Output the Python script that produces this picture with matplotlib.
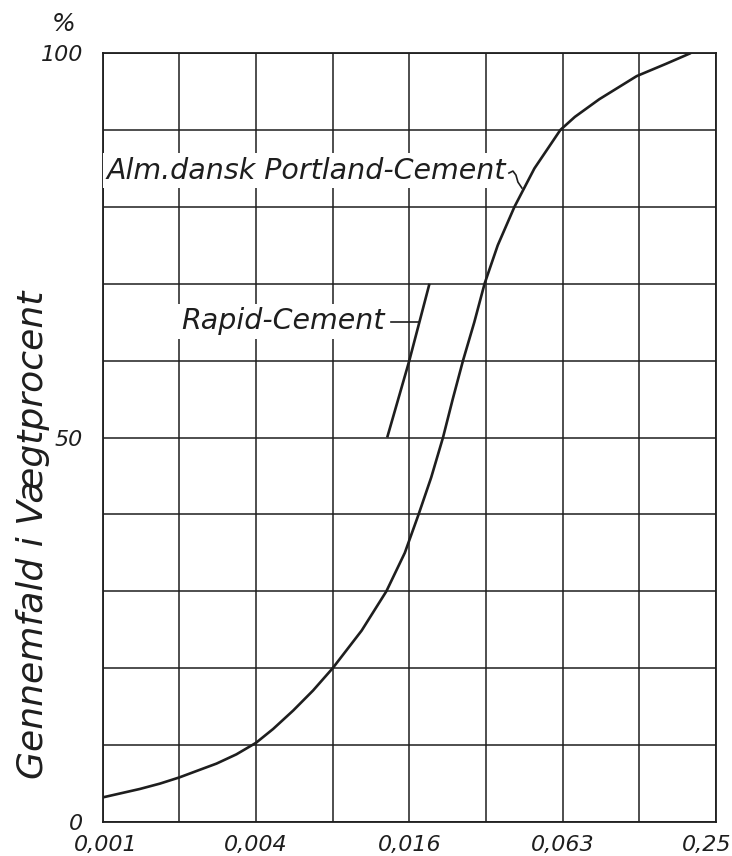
import matplotlib
matplotlib.use("Agg")
import matplotlib.pyplot as plt
import matplotlib.transforms as mtransforms

# Data
portland_x = [0.001, 0.0014, 0.00168, 0.002, 0.00241, 0.0028, 0.00335, 0.004,
              0.00467, 0.0056, 0.0067, 0.008, 0.0104, 0.0130, 0.01536, 0.0174,
              0.0195, 0.0217, 0.0237, 0.0260, 0.0288, 0.0316, 0.0356, 0.0414,
              0.0496, 0.0563, 0.0627, 0.0715, 0.0892, 0.125, 0.163, 0.204]
portland_y = [3.2, 4.3, 5.0, 5.8, 6.8, 7.6, 8.8, 10.3,
              12.1, 14.5, 17.1, 20.0, 24.9, 30.0, 35.0, 40.0,
              44.8, 50.0, 55.0, 60.0, 65.0, 70.0, 75.0, 80.0,
              85.0, 87.7, 90.0, 91.7, 94.0, 97.0, 98.6, 100.0]
rapid_x = [0.0131, 0.016, 0.0192]
rapid_y = [50.0, 60.0, 70.0]

grid_x = [0.001 * 2 ** k for k in range(9)]
xtick_pos = [0.001, 0.004, 0.016, 0.064, 0.256]
xtick_labels = ["0,001", "0,004", "0,016", "0,063", "0,25"]
ytick_pos = [0, 50, 100]
ytick_labels = ["0", "50", "100"]
ylabel = "Gennemfald i Vægtprocent"
label_portland = "Alm.dansk Portland-Cement"
label_rapid = "Rapid-Cement"

ink = "#1e1e1e"
FONT = dict(family="DejaVu Sans", style="italic")

fig = plt.figure(figsize=(7.32, 8.56), dpi=100)
ax = fig.add_axes([0.1403, 0.0397, 0.978 - 0.1403, 0.938 - 0.0397])
ax.set_xscale("log", base=2)
ax.set_xlim(grid_x[0], grid_x[-1])
ax.set_ylim(0, 100)

for gx in grid_x:
    ax.axvline(gx, color=ink, lw=1.1, zorder=1)
for gy in range(0, 101, 10):
    ax.axhline(gy, color=ink, lw=1.1, zorder=1)
for s in ax.spines.values():
    s.set_color(ink)
    s.set_linewidth(1.3)

ax.plot(portland_x, portland_y, color=ink, lw=1.9, zorder=3,
        solid_capstyle="butt", solid_joinstyle="round")
ax.plot(rapid_x, rapid_y, color=ink, lw=1.9, zorder=3, solid_capstyle="butt")

ax.set_xticks(xtick_pos)
ax.set_xticklabels(xtick_labels)
ax.minorticks_off()
ax.set_yticks(ytick_pos)
ax.set_yticklabels(ytick_labels)
ax.tick_params(axis="x", length=0, pad=9, labelsize=16, colors=ink)
ax.tick_params(axis="y", length=0, pad=14, labelsize=16, colors=ink)
for lab in ax.get_xticklabels() + ax.get_yticklabels():
    lab.set_fontstyle("italic")
last = ax.get_xticklabels()[-1]
last.set_transform(last.get_transform() +
                   mtransforms.ScaledTranslation(-9 / 100, 0, fig.dpi_scale_trans))
first = ax.get_xticklabels()[0]
first.set_transform(first.get_transform() +
                    mtransforms.ScaledTranslation(3 / 100, 0, fig.dpi_scale_trans))

fig.text(0.087, 0.972, "%", fontsize=18, color=ink, ha="center", va="center", **FONT)
fig.text(0.045, 0.375, ylabel, rotation=90, fontsize=26, color=ink,
         ha="center", va="center", **FONT)

# annotations (positions in axes fraction)
bb = dict(boxstyle="square,pad=0.12", fc="white", ec="none")
ax.text(0.006, 0.847, label_portland, transform=ax.transAxes, fontsize=20.5,
        color=ink, ha="left", va="center", zorder=4, bbox=bb, **FONT)
ax.text(0.128, 0.651, label_rapid, transform=ax.transAxes, fontsize=20.5,
        color=ink, ha="left", va="center", zorder=4, bbox=bb, **FONT)

def px2ax(px, py):
    x0, x1 = 102.7, 716.0
    y0, y1 = 822.0, 53.0
    return (px - x0) / (x1 - x0), (y0 - py) / (y0 - y1)

lead = [px2ax(391, 322), px2ax(419, 322)]
ax.plot([p[0] for p in lead], [p[1] for p in lead], transform=ax.transAxes,
        color=ink, lw=1.2, zorder=5)

hook = [px2ax(p, q) for p, q in [(509, 173), (513, 171), (516, 175), (518, 182), (522, 188)]]
ax.plot([h[0] for h in hook], [h[1] for h in hook], transform=ax.transAxes,
        color=ink, lw=1.2, zorder=5)

fig.savefig("out.png", dpi=100, facecolor="white")
